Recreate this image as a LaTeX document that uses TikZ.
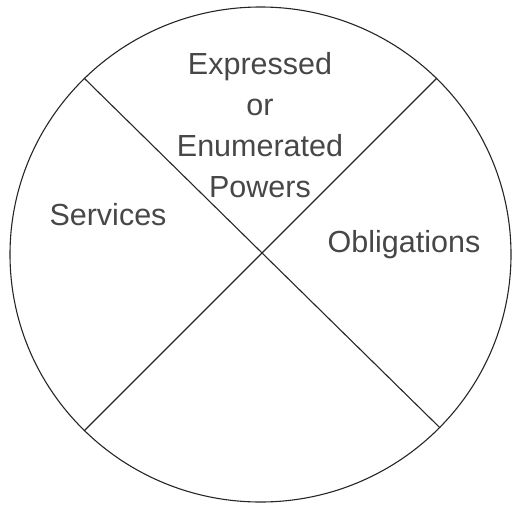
\documentclass[tikz,border=0pt]{standalone}
\usepackage{fontspec}
\setmainfont{Liberation Sans}
\usetikzlibrary{shapes.geometric}
\begin{document}
\begin{tikzpicture}[x=1pt,y=-1pt,
  ring/.style={draw=black!85,line width=1.1pt,ellipse,inner sep=0pt,minimum width=501pt,minimum height=495pt},
  divider/.style={draw=black!85,line width=1.1pt},
  label/.style={text=black!72,font=\fontsize{30.5}{41}\selectfont,align=center,inner sep=0pt}]
\useasboundingbox (0,0) rectangle (513,508);
\node[ring] (c) at (260.5,254.5) {};
\draw[divider] (c.135.6) -- (c.-44.8);
\draw[divider] (c.45) -- (c.225.3);
\node[label] (powers) at (260,125) {Expressed\\or\\Enumerated\\Powers};
\node[label] (services) at (108,215) {Services};
\node[label] (obligations) at (404,245) {Obligations};
\end{tikzpicture}
\end{document}
